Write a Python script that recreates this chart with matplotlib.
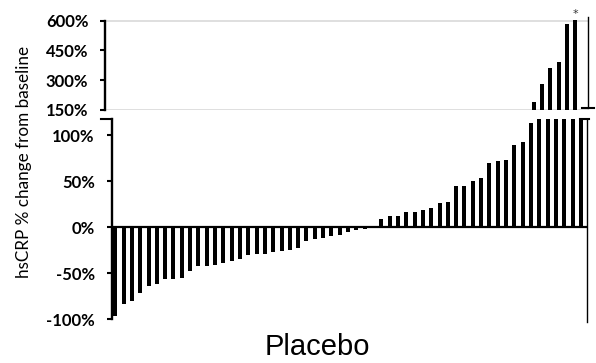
import numpy as np
import matplotlib
matplotlib.use("Agg")
import matplotlib.pyplot as plt
from matplotlib.lines import Line2D

# hsCRP % change from baseline per subject, sorted (waterfall)
subjects = np.arange(57)
change = [
    -96, -83.5, -80, -71, -64, -61.5, -56.5, -55.8, -55.4, -48,
    -42.4, -41.7, -40.6, -38.8, -37, -34.4, -29.7, -28.6, -28.6, -27,
    -26, -25, -23, -14.5, -12.4, -11.7, -9.2, -8, -5, -3.3,
    -1.5, 0, 9.3, 12.6, 12.6, 17, 17, 18.5, 21.3, 26.8,
    27.9, 45, 45, 50.7, 54, 69.6, 72, 73, 89.5, 92.4,
    113, 192, 281, 363, 390, 583, 603,
]
lower_ticks = [-100, -50, 0, 50, 100]
lower_labels = ["-100%", "-50%", "0%", "50%", "100%"]
upper_ticks = [150, 300, 450, 600]
upper_labels = ["150%", "300%", "450%", "600%"]
flagged_subject = 56

tick_font = dict(family="Lato", weight="bold", size=12)

fig = plt.figure(figsize=(5.96, 3.63), dpi=100)
ax_lo = fig.add_axes([0.1871, 0.1138, 0.7973, 0.5579])
ax_hi = fig.add_axes([0.1762, 0.6959, 0.8099, 0.2565])

for ax in (ax_lo, ax_hi):
    ax.bar(subjects, change, width=0.48, color="black", zorder=3)
    ax.set_xticks([])
    ax.spines["top"].set_visible(False)
    ax.spines["bottom"].set_visible(False)
    ax.spines["left"].set_linewidth(1.7)
    ax.spines["right"].set_linewidth(1.0)
    ax.tick_params(axis="y", which="major", direction="out", length=3.5,
                   width=1.5, pad=8.5, left=True, right=False)
    ax.patch.set_alpha(0)

# lower segment of the broken axis
ax_lo.set_xlim(-0.45, 56.7)
ax_lo.set_ylim(-102.6, 117.5)
ax_lo.spines["left"].set_bounds(-100, 117.5)
ax_lo.set_yticks(lower_ticks)
ax_lo.set_yticklabels(lower_labels, fontdict=tick_font)
ax_lo.axhline(0, color="black", lw=1.6, zorder=4)
ax_lo.add_line(Line2D([-0.022, 0.0], [1.0, 1.0], transform=ax_lo.transAxes,
                      color="black", lw=1.5, clip_on=False))
ax_lo.add_line(Line2D([0.986, 1.005], [1.0, 1.0], transform=ax_lo.transAxes,
                      color="black", lw=1.5, clip_on=False))

# upper segment of the broken axis
ax_hi.set_xlim(-0.5, 57.5)
ax_hi.set_ylim(148, 617)
ax_hi.spines["left"].set_bounds(150, 600)
ax_hi.spines["right"].set_bounds(158.5, 617)
ax_hi.set_yticks(upper_ticks)
ax_hi.set_yticklabels(upper_labels, fontdict=tick_font)
for level in (150, 600):
    ax_hi.axhline(level, color="#d9d9d9", lw=1.2, zorder=1)
cap_y = ax_hi.transLimits.transform((0, 158.5))[1]
ax_hi.add_line(Line2D([0.988, 1.012], [cap_y, cap_y], transform=ax_hi.transAxes,
                      color="black", lw=1.5, clip_on=False))
ax_hi.annotate("*", xy=(subjects[flagged_subject], change[flagged_subject]),
               xytext=(0, 0.5), textcoords="offset points",
               ha="center", va="bottom", fontsize=8, color="#333333")

fig.text(24 / 596, 1 - 162 / 363, "hsCRP % change from baseline",
         rotation=90, ha="center", va="center", family="Lato", fontsize=12.3)
fig.text(317 / 596, 1 - 355 / 363, "Placebo", ha="center", va="baseline",
         family="Liberation Sans", fontsize=21)

fig.savefig("out.png", dpi=100)
